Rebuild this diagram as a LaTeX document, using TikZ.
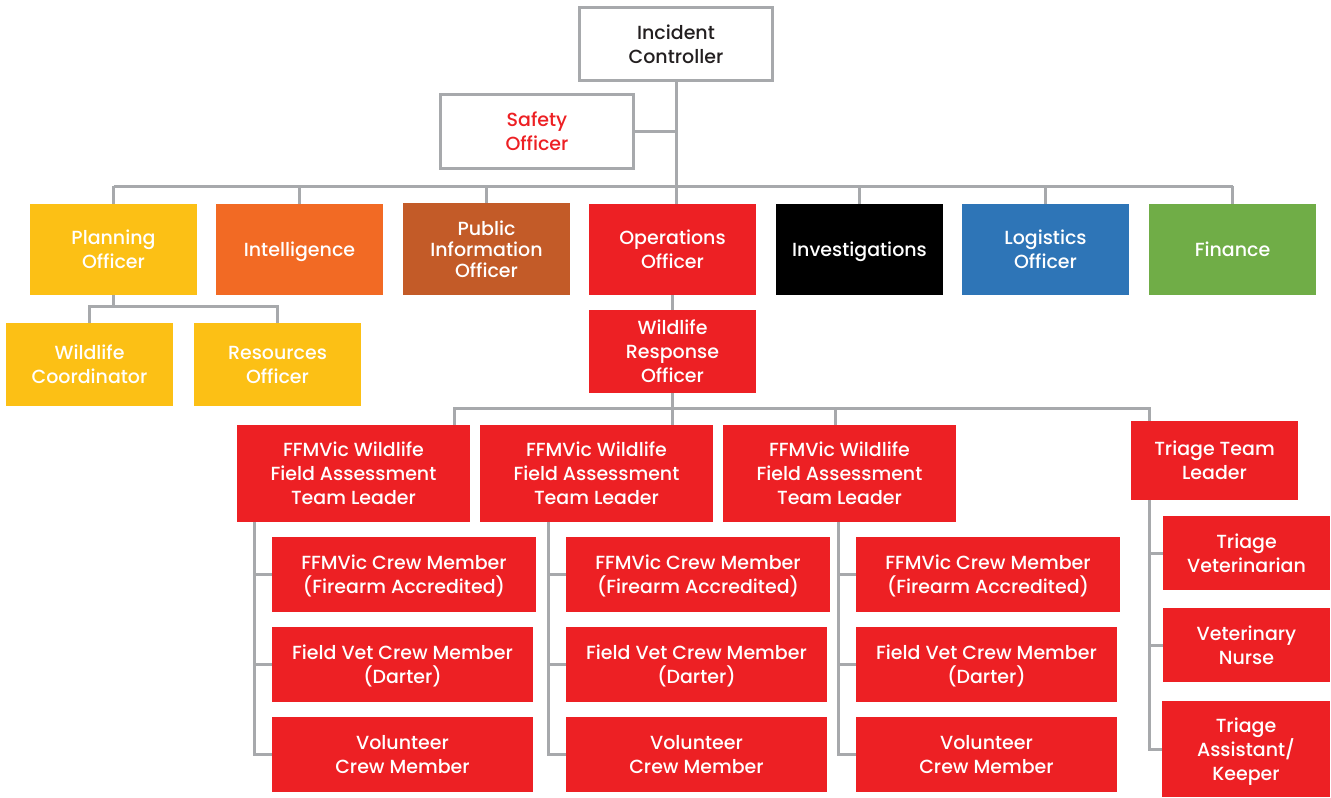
\documentclass[tikz,border=0pt]{standalone}
\usepackage{fontspec}
\setmainfont{Poppins}[UprightFont=* Medium]
\definecolor{cgray}{HTML}{A7A9AC}
\definecolor{cyellow}{HTML}{FCC015}
\definecolor{corange}{HTML}{F26A24}
\definecolor{cbrown}{HTML}{C35B28}
\definecolor{cred}{HTML}{ED2024}
\definecolor{cblue}{HTML}{2E75B7}
\definecolor{cgreen}{HTML}{70AD47}
\definecolor{ctext}{HTML}{231F20}
\begin{document}
\begin{tikzpicture}[x=1pt,y=-1pt,
  box/.style={rectangle,inner sep=0pt,align=center,text depth=-4pt,font=\fontsize{19}{24}\selectfont,text=white},
  obox/.style={box,draw=cgray,line width=3pt,fill=white},
  conn/.style={draw=cgray,line width=3pt}]
\useasboundingbox (0,0) rectangle (1331,798);
% top
\node[obox,text=ctext,minimum width=193,minimum height=73] (ic) at (676,44) {Incident\\Controller};
\node[obox,text=cred,minimum width=193,minimum height=74] (so) at (537,131.5) {Safety\\Officer};
% row 2
\node[box,fill=cyellow,minimum width=167,minimum height=91] (plan) at (113.5,249.5) {Planning\\Officer};
\node[box,fill=corange,minimum width=167,minimum height=91] (intel) at (299.5,249.5) {Intelligence};
\node[box,fill=cbrown,minimum width=167,minimum height=92] (pio) at (486.5,249) {Public\\[-3pt]Information\\[-3pt]Officer};
\node[box,fill=cred,minimum width=167,minimum height=91] (ops) at (672.5,249.5) {Operations\\Officer};
\node[box,fill=black,minimum width=167,minimum height=91] (inv) at (859.5,249.5) {Investigations};
\node[box,fill=cblue,minimum width=167,minimum height=91] (log) at (1045.5,249.5) {Logistics\\Officer};
\node[box,fill=cgreen,minimum width=167,minimum height=91] (fin) at (1232.5,249.5) {Finance};
% planning subs
\node[box,fill=cyellow,minimum width=167,minimum height=83] (wc) at (89.5,364.5) {Wildlife\\Coordinator};
\node[box,fill=cyellow,minimum width=167,minimum height=83] (ro) at (277.5,364.5) {Resources\\Officer};
% operations
\node[box,fill=cred,minimum width=167,minimum height=83] (wro) at (672.5,351.5) {Wildlife\\Response\\Officer};
\node[box,fill=cred,minimum width=233,minimum height=97] (l1) at (353.5,473.5) {FFMVic Wildlife\\Field Assessment\\Team Leader};
\node[box,fill=cred,minimum width=233,minimum height=97] (l2) at (596.5,473.5) {FFMVic Wildlife\\Field Assessment\\Team Leader};
\node[box,fill=cred,minimum width=233,minimum height=97] (l3) at (839.5,473.5) {FFMVic Wildlife\\Field Assessment\\Team Leader};
\node[box,fill=cred,minimum width=167,minimum height=79] (ttl) at (1214.5,460.5) {Triage Team\\Leader};
% crews
\node[box,fill=cred,minimum width=264,minimum height=75] (c1a) at (404,574.5) {FFMVic Crew Member\\(Firearm Accredited)};
\node[box,fill=cred,minimum width=261,minimum height=75] (c1b) at (402.5,664.5) {Field Vet Crew Member\\(Darter)};
\node[box,fill=cred,minimum width=261,minimum height=75] (c1c) at (402.5,754.5) {Volunteer\\Crew Member};
\node[box,fill=cred,minimum width=264,minimum height=75] (c2a) at (698,574.5) {FFMVic Crew Member\\(Firearm Accredited)};
\node[box,fill=cred,minimum width=261,minimum height=75] (c2b) at (696.5,664.5) {Field Vet Crew Member\\(Darter)};
\node[box,fill=cred,minimum width=261,minimum height=75] (c2c) at (696.5,754.5) {Volunteer\\Crew Member};
\node[box,fill=cred,minimum width=264,minimum height=75] (c3a) at (988,574.5) {FFMVic Crew Member\\(Firearm Accredited)};
\node[box,fill=cred,minimum width=261,minimum height=75] (c3b) at (986.5,664.5) {Field Vet Crew Member\\(Darter)};
\node[box,fill=cred,minimum width=261,minimum height=75] (c3c) at (986.5,754.5) {Volunteer\\Crew Member};
% triage
\node[box,fill=cred,minimum width=167,minimum height=74] (tv) at (1246.5,553) {Triage\\Veterinarian};
\node[box,fill=cred,minimum width=167,minimum height=74] (vn) at (1246.5,645) {Veterinary\\Nurse};
\node[box,fill=cred,minimum width=168,minimum height=96] (ta) at (1246,749) {Triage\\Assistant/\\Keeper};
% connectors
\coordinate (bus) at (0,186);
\coordinate (pb) at (0,306);
\coordinate (b2l) at (454,408);
\coordinate (b2m) at (835,408);
\coordinate (b2r) at (1149,408);
\coordinate (v1) at (254,0);
\coordinate (v2) at (548,0);
\coordinate (v3) at (838,0);
\path[conn] (ic.south) -- (ic.south |- bus);
\path[conn] (so.east) -- (so.east -| ic.south);
\path[conn] (plan.north |- bus) -- (fin.north |- bus);
\foreach \n in {plan,intel,pio,inv,log,fin}{\path[conn] (\n.north |- bus) -- (\n.north);}
\path[conn] (ic.south |- bus) -- (ic.south |- ops.north);
\path[conn] (plan.south) -- (plan.south |- pb);
\path[conn] (wc.north) -- (wc.north |- pb) -- (ro.north |- pb) -- (ro.north);
\path[conn] (ops.south) -- (wro.north);
\path[conn] (wro.south) -- (wro.south |- l2.north);
\path[conn] (b2l |- l1.north) -- (b2l) -- (b2r) -- (b2r |- ttl.north);
\path[conn] (b2m) -- (b2m |- l3.north);
\path[conn] (v1 |- l1.south) -- (v1 |- c1c.west) -- (c1c.west);
\path[conn] (v1 |- c1a.west) -- (c1a.west);
\path[conn] (v1 |- c1b.west) -- (c1b.west);
\path[conn] (v2 |- l2.south) -- (v2 |- c2c.west) -- (c2c.west);
\path[conn] (v2 |- c2a.west) -- (c2a.west);
\path[conn] (v2 |- c2b.west) -- (c2b.west);
\path[conn] (v3 |- l3.south) -- (v3 |- c3c.west) -- (c3c.west);
\path[conn] (v3 |- c3a.west) -- (c3a.west);
\path[conn] (v3 |- c3b.west) -- (c3b.west);
\path[conn] (b2r |- ttl.south) -- (b2r |- ta.west) -- (ta.west);
\path[conn] (b2r |- tv.west) -- (tv.west);
\path[conn] (b2r |- vn.west) -- (vn.west);
\end{tikzpicture}
\end{document}
